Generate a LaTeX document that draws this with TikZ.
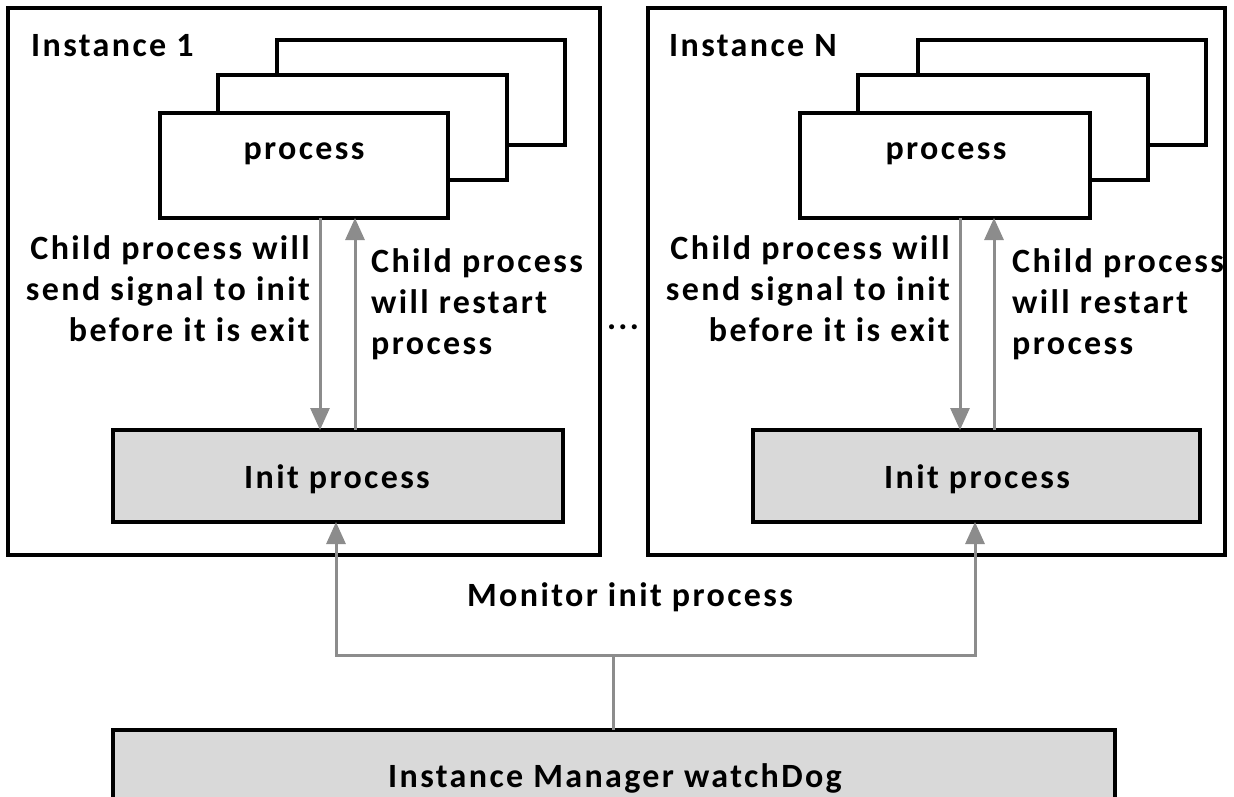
\documentclass[tikz,border=0pt]{standalone}
\usepackage{fontspec}
\setmainfont{Carlito}[LetterSpace=7]
\usetikzlibrary{arrows.meta}
\definecolor{boxgray}{HTML}{D9D9D9}
\definecolor{linkgray}{HTML}{8C8C8C}
\tikzset{
  x=1pt, y=-1pt,
  frame/.style={draw=black, line width=4pt, fill=white},
  procbox/.style={draw=black, line width=4pt, fill=white},
  initbox/.style={draw=black, line width=4pt, fill=boxgray},
  link/.style={draw=linkgray, line width=3pt, -{Triangle[length=22pt,width=19pt]}},
  plain/.style={draw=linkgray, line width=3pt},
  lbl/.style={font=\bfseries\fontsize{34}{41}\selectfont, inner sep=0pt},
}
\begin{document}
\begin{tikzpicture}
\useasboundingbox (0,0) rectangle (1234,797);
\clip (0,0) rectangle (1234,797);

% ---- Instance 1 ----
\draw[frame] (8,8) rectangle (600,555);
\node[lbl, anchor=west] (t1) at (31,46) {Instance 1};
\draw[procbox] (277,40) rectangle (565,145);
\draw[procbox] (218,75) rectangle (507,180);
\draw[procbox] (160,113) rectangle (448,218);
\node[lbl] (p1) at (304,154) {process};
\draw[initbox] (113,430) rectangle (563,522);
\node[lbl] (i1) at (337,479) {Init process};
\coordinate (p1a) at (320,218);
\coordinate (i1a) at (320,430);
\coordinate (p1b) at (355,218);
\coordinate (i1b) at (355,430);
\draw[link] (p1a) -- (i1a);
\draw[link] (i1b) -- (p1b);
\node[lbl, anchor=east, align=right] (l1) at (310,289)
  {Child process will\\send signal to init\\before it is exit};
\node[lbl, anchor=west, align=left] (r1) at (371,304)
  {Child process\\will restart\\process};

% ---- ellipsis ----
\node[lbl] (dots) at (623,327) {...};

% ---- Instance N ----
\draw[frame] (648,8) rectangle (1225,555);
\node[lbl, anchor=west] (tn) at (669,46) {Instance N};
\draw[procbox] (918,40) rectangle (1206,145);
\draw[procbox] (858,75) rectangle (1148,180);
\draw[procbox] (800,113) rectangle (1090,218);
\node[lbl] (pn) at (946,154) {process};
\draw[initbox] (753,430) rectangle (1200,522);
\node[lbl] (in) at (977,479) {Init process};
\coordinate (pna) at (960,218);
\coordinate (ina) at (960,430);
\coordinate (pnb) at (994,218);
\coordinate (inb) at (994,430);
\draw[link] (pna) -- (ina);
\draw[link] (inb) -- (pnb);
\node[lbl, anchor=east, align=right] (ln) at (950,289)
  {Child process will\\send signal to init\\before it is exit};
\node[lbl, anchor=west, align=left] (rn) at (1012,304)
  {Child process\\will restart\\process};

% ---- watchdog ----
\draw[initbox] (113,730) rectangle (1115,830);
\node[lbl] (wd) at (615,778) {Instance Manager watchDog};
\coordinate (wdt) at (613,730);
\coordinate (jn) at (613,655);
\coordinate (jl) at (336,655);
\coordinate (jr) at (975,655);
\coordinate (i1c) at (336,522);
\coordinate (inc) at (975,522);
\draw[plain] (wdt) -- (jn);
\draw[link] (jn) -- (jl) -- (i1c);
\draw[link] (jn) -- (jr) -- (inc);
\node[lbl] (mon) at (630,597) {Monitor init process};
\end{tikzpicture}
\end{document}
